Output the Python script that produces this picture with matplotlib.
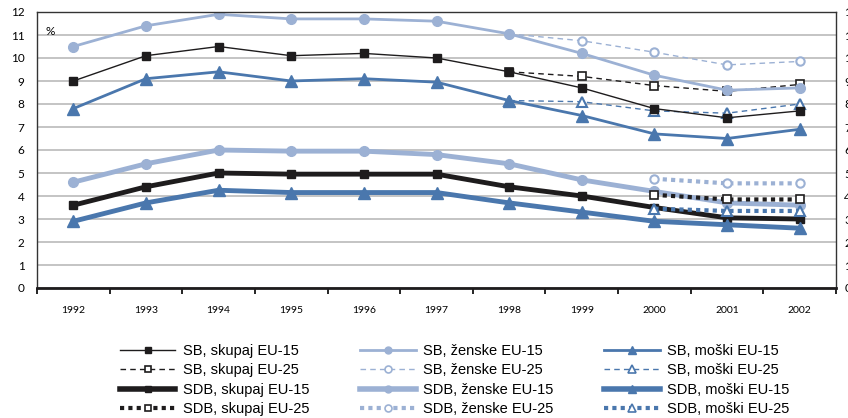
import numpy as np
import matplotlib.pyplot as plt
from matplotlib.lines import Line2D

# data
years = ['1992', '1993', '1994', '1995', '1996', '1997', '1998', '1999', '2000', '2001', '2002']

sb_skupaj_15 = [9.0, 10.1, 10.5, 10.1, 10.2, 10.0, 9.4, 8.7, 7.8, 7.4, 7.7]
sb_zenske_15 = [10.5, 11.4, 11.9, 11.7, 11.7, 11.6, 11.05, 10.2, 9.25, 8.6, 8.7]
sb_moski_15 = [7.8, 9.1, 9.4, 9.0, 9.1, 8.95, 8.15, 7.5, 6.7, 6.5, 6.9]

# EU-25 series start in 1998
sb_skupaj_25 = [9.4, 9.2, 8.8, 8.55, 8.85]
sb_zenske_25 = [11.05, 10.75, 10.25, 9.7, 9.85]
sb_moski_25 = [8.15, 8.1, 7.7, 7.6, 8.0]

sdb_skupaj_15 = [3.6, 4.4, 5.0, 4.95, 4.95, 4.95, 4.4, 4.0, 3.5, 3.05, 3.0]
sdb_zenske_15 = [4.6, 5.4, 6.0, 5.95, 5.95, 5.8, 5.4, 4.7, 4.2, 3.7, 3.6]
sdb_moski_15 = [2.9, 3.7, 4.25, 4.15, 4.15, 4.15, 3.7, 3.3, 2.9, 2.75, 2.6]

# SDB EU-25 series start in 2000
sdb_skupaj_25 = [4.05, 3.85, 3.85]
sdb_zenske_25 = [4.75, 4.55, 4.55]
sdb_moski_25 = [3.45, 3.35, 3.35]

BLACK = '#1e1c1d'
LIGHT = '#9cb1d4'
BLUE = '#4a77ad'

x = np.arange(len(years))
x98 = x[6:]
x00 = x[8:]

fig = plt.figure(figsize=(8.48, 4.18), dpi=100)
ax = fig.add_axes([37 / 848, 1 - 288 / 418, (836 - 37) / 848, (288 - 12) / 418])

tick_font = 'Lato'
ax.set_ylim(0, 12)
ax.set_xlim(-0.5, len(years) - 0.5)
ax.set_yticks(range(13))
ax.set_yticklabels([str(v) for v in range(13)], fontsize=8.5, family=tick_font)
ax.tick_params(axis='y', length=0, pad=9)
ax.set_xticks(x)
ax.set_xticklabels(years, fontsize=7.5, family=tick_font)
ax.set_xticks(np.arange(-0.5, len(years)), minor=True)
ax.tick_params(axis='x', which='major', length=0, pad=13)
ax.tick_params(axis='x', which='minor', length=4, width=1.2, direction='out')
ax.grid(axis='y', color='#c4c4c4', lw=1.4)
ax.set_axisbelow(True)
for s in ['top', 'left', 'right']:
    ax.spines[s].set_color('#333333')
    ax.spines[s].set_linewidth(1.0)
ax.spines['bottom'].set_linewidth(2.0)
ax.spines['bottom'].set_color(BLACK)

# right-hand axis: its labels run off the edge, as in the original
ax2 = ax.twinx()
ax2.set_ylim(0, 12)
ax2.set_yticks(range(13))
ax2.set_yticklabels([str(v) for v in range(13)], fontsize=8.5, family=tick_font)
ax2.tick_params(axis='y', length=0, pad=6)
for s in ax2.spines.values():
    s.set_visible(False)

ax.text(0.011, 0.95, '%', transform=ax.transAxes, fontsize=8.5, family=tick_font, va='top')

dash = (4, 3)
dot = (1, 1)

# SB EU-25 (dashed, open markers)
ax.plot(x98, sb_zenske_25, color=LIGHT, lw=1, dashes=dash, marker='o', ms=6, mfc='white', mew=1.5)
ax.plot(x98, sb_skupaj_25, color=BLACK, lw=1, dashes=dash, marker='s', ms=6, mfc='white', mew=1.2)
ax.plot(x98, sb_moski_25, color=BLUE, lw=1, dashes=dash, marker='^', ms=7, mfc='white', mew=1.5)

# SB EU-15
ax.plot(x, sb_zenske_15, color=LIGHT, lw=2, marker='o', ms=7)
ax.plot(x, sb_skupaj_15, color=BLACK, lw=1, marker='s', ms=6)
ax.plot(x, sb_moski_15, color=BLUE, lw=2, marker='^', ms=8)

# SDB EU-15
ax.plot(x, sdb_zenske_15, color=LIGHT, lw=3.5, marker='o', ms=7)
ax.plot(x, sdb_skupaj_15, color=BLACK, lw=3.5, marker='s', ms=6)
ax.plot(x, sdb_moski_15, color=BLUE, lw=3.5, marker='^', ms=8)

# SDB EU-25 (dotted, open markers)
ax.plot(x00, sdb_zenske_25, color=LIGHT, lw=3, dashes=dot, marker='o', ms=6, mfc='white', mew=1.5)
ax.plot(x00, sdb_skupaj_25, color=BLACK, lw=3, dashes=dot, marker='s', ms=6, mfc='white', mew=1.2)
ax.plot(x00, sdb_moski_25, color=BLUE, lw=3, dashes=dot, marker='^', ms=7, mfc='white', mew=1.5)


def handle(color, lw, marker, ms, dashes=None, open_marker=False):
    kw = dict(color=color, lw=lw, marker=marker, ms=ms)
    if dashes is not None:
        kw['dashes'] = dashes
    if open_marker:
        kw['mfc'] = 'white'
        kw['mew'] = 1.2
    return Line2D([], [], **kw)


handles = [
    handle(BLACK, 1, 's', 5),
    handle(BLACK, 1, 's', 5, dash, True),
    handle(BLACK, 4, 's', 5),
    handle(BLACK, 3, 's', 5, dot, True),
    handle(LIGHT, 2, 'o', 5),
    handle(LIGHT, 1, 'o', 5, dash, True),
    handle(LIGHT, 4, 'o', 5),
    handle(LIGHT, 3, 'o', 5, dot, True),
    handle(BLUE, 2, '^', 6),
    handle(BLUE, 1, '^', 6, dash, True),
    handle(BLUE, 4, '^', 6),
    handle(BLUE, 3, '^', 6, dot, True),
]
labels = [
    'SB, skupaj EU-15', 'SB, skupaj EU-25', 'SDB, skupaj EU-15', 'SDB, skupaj EU-25',
    'SB, ženske EU-15', 'SB, ženske EU-25', 'SDB, ženske EU-15', 'SDB, ženske EU-25',
    'SB, moški EU-15', 'SB, moški EU-25', 'SDB, moški EU-15', 'SDB, moški EU-25',
]
fig.legend(handles, labels, ncol=3, loc='upper left',
           bbox_to_anchor=(120 / 848, 1 - 344 / 418),
           frameon=False, borderpad=0, borderaxespad=0,
           prop={'family': 'Liberation Sans', 'size': 10.5},
           handlelength=3.8, handletextpad=0.5, columnspacing=3.5,
           labelspacing=0.37, numpoints=1)

fig.savefig('out.png', dpi=100)
